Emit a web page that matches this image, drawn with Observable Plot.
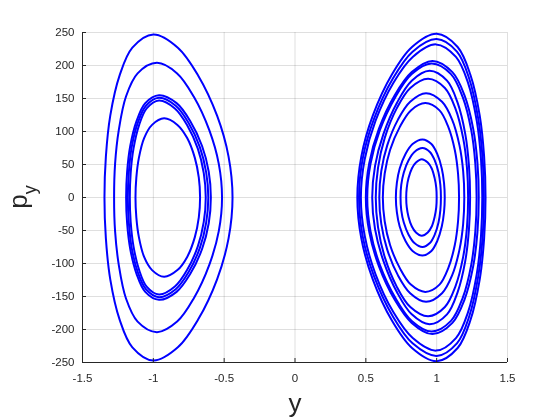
<!DOCTYPE html>
<html><head><meta charset="utf-8">
<script src="https://cdn.jsdelivr.net/npm/d3@7"></script>
<script src="https://cdn.jsdelivr.net/npm/@observablehq/plot@0.6"></script>
<style>body{margin:0;background:#fff}#chart{width:560px;height:420px}#chart svg{will-change:transform}</style>
</head><body><div id="chart"></div>
<script>
const xTicks = [-1.5, -1, -0.5, 0, 0.5, 1, 1.5];
const yTicks = [-250, -200, -150, -100, -50, 0, 50, 100, 150, 200, 250];
const xLabel = "y";
const yLabelMain = "p";
const yLabelSub = "y";

// orbits around y = -1 : [y, p_y] points
const leftOrbits = [
  [[-1.0,247],[-0.827,227],[-0.684,185],[-0.55,124],[-0.469,62],[-0.441,0],[-0.469,-62],[-0.55,-124],[-0.684,-185],[-0.827,-227],[-1.0,-247],[-1.148,-227],[-1.238,-185],[-1.304,-124],[-1.335,-62],[-1.345,0],[-1.335,62],[-1.304,124],[-1.238,185],[-1.148,227]],
  [[-0.975,204],[-0.832,188],[-0.715,153],[-0.605,102],[-0.538,51],[-0.515,0],[-0.538,-51],[-0.605,-102],[-0.715,-153],[-0.832,-188],[-0.975,-204],[-1.111,-188],[-1.193,-153],[-1.244,-102],[-1.27,-51],[-1.277,0],[-1.27,51],[-1.244,102],[-1.193,153],[-1.111,188]],
  [[-0.96,155],[-0.836,143],[-0.74,116],[-0.656,78],[-0.609,39],[-0.594,0],[-0.609,-39],[-0.656,-78],[-0.74,-116],[-0.836,-143],[-0.96,-155],[-1.057,-143],[-1.118,-116],[-1.163,-78],[-1.185,-39],[-1.192,0],[-1.185,39],[-1.163,78],[-1.118,116],[-1.057,143]],
  [[-0.96,151],[-0.842,139],[-0.751,113],[-0.671,76],[-0.627,38],[-0.612,0],[-0.627,-38],[-0.671,-76],[-0.751,-113],[-0.842,-139],[-0.96,-151],[-1.052,-139],[-1.11,-113],[-1.153,-76],[-1.173,-38],[-1.18,0],[-1.173,38],[-1.153,76],[-1.11,113],[-1.052,139]],
  [[-0.96,147],[-0.848,135],[-0.762,110],[-0.686,74],[-0.644,37],[-0.63,0],[-0.644,-37],[-0.686,-74],[-0.762,-110],[-0.848,-135],[-0.96,-147],[-1.047,-135],[-1.10,-110],[-1.14,-74],[-1.16,-37],[-1.166,0],[-1.16,37],[-1.14,74],[-1.10,110],[-1.047,135]],
  [[-0.924,120],[-0.83,110],[-0.761,90],[-0.707,60],[-0.679,30],[-0.67,0],[-0.679,-30],[-0.707,-60],[-0.761,-90],[-0.83,-110],[-0.924,-120],[-1.009,-110],[-1.065,-90],[-1.102,-60],[-1.12,-30],[-1.126,0],[-1.12,30],[-1.102,60],[-1.065,90],[-1.009,110]]
];

// orbits around y = +1
const rightOrbits = [
  [[1.0,248],[0.826,228],[0.683,186],[0.549,124],[0.468,62],[0.44,0],[0.468,-62],[0.549,-124],[0.683,-186],[0.826,-228],[1.0,-248],[1.148,-228],[1.238,-186],[1.304,-124],[1.335,-62],[1.345,0],[1.335,62],[1.304,124],[1.238,186],[1.148,228]],
  [[1.0,240],[0.83,221],[0.69,180],[0.559,120],[0.479,60],[0.452,0],[0.479,-60],[0.559,-120],[0.69,-180],[0.83,-221],[1.0,-240],[1.143,-221],[1.23,-180],[1.293,-120],[1.324,-60],[1.333,0],[1.324,60],[1.293,120],[1.23,180],[1.143,221]],
  [[0.995,232],[0.831,213],[0.695,174],[0.568,116],[0.492,58],[0.465,0],[0.492,-58],[0.568,-116],[0.695,-174],[0.831,-213],[0.995,-232],[1.136,-213],[1.221,-174],[1.283,-116],[1.313,-58],[1.322,0],[1.313,58],[1.283,116],[1.221,174],[1.136,213]],
  [[0.97,207],[0.824,190],[0.704,155],[0.592,104],[0.524,52],[0.50,0],[0.524,-52],[0.592,-104],[0.704,-155],[0.824,-190],[0.97,-207],[1.111,-190],[1.196,-155],[1.258,-104],[1.288,-52],[1.297,0],[1.288,52],[1.258,104],[1.196,155],[1.111,190]],
  [[0.965,203],[0.824,187],[0.708,152],[0.599,102],[0.533,51],[0.51,0],[0.533,-51],[0.599,-102],[0.708,-152],[0.824,-187],[0.965,-203],[1.101,-187],[1.184,-152],[1.244,-102],[1.273,-51],[1.282,0],[1.273,51],[1.244,102],[1.184,152],[1.101,187]],
  [[0.95,192],[0.824,177],[0.721,144],[0.624,96],[0.565,48],[0.545,0],[0.565,-48],[0.624,-96],[0.721,-144],[0.824,-177],[0.95,-192],[1.073,-177],[1.147,-144],[1.202,-96],[1.228,-48],[1.236,0],[1.228,48],[1.202,96],[1.147,144],[1.073,177]],
  [[0.94,180],[0.814,166],[0.718,135],[0.633,90],[0.586,45],[0.57,0],[0.586,-45],[0.633,-90],[0.718,-135],[0.814,-166],[0.94,-180],[1.058,-166],[1.132,-135],[1.187,-90],[1.214,-45],[1.222,0],[1.214,45],[1.187,90],[1.132,135],[1.058,166]],
  [[0.925,158],[0.813,145],[0.727,118],[0.651,79],[0.609,40],[0.595,0],[0.609,-40],[0.651,-79],[0.727,-118],[0.813,-145],[0.925,-158],[1.038,-145],[1.109,-118],[1.161,-79],[1.187,-40],[1.195,0],[1.187,40],[1.161,79],[1.109,118],[1.038,145]],
  [[0.92,143],[0.818,132],[0.74,107],[0.671,72],[0.633,36],[0.62,0],[0.633,-36],[0.671,-72],[0.74,-107],[0.818,-132],[0.92,-143],[1.02,-132],[1.082,-107],[1.128,-72],[1.151,-36],[1.158,0],[1.151,36],[1.128,72],[1.082,107],[1.02,132]],
  [[0.9,88],[0.83,81],[0.78,66],[0.739,44],[0.719,22],[0.712,0],[0.719,-22],[0.739,-44],[0.78,-66],[0.83,-81],[0.9,-88],[0.963,-81],[1.004,-66],[1.036,-44],[1.052,-22],[1.057,0],[1.052,22],[1.036,44],[1.004,66],[0.963,81]],
  [[0.9,75],[0.843,69],[0.801,56],[0.768,38],[0.75,19],[0.745,0],[0.75,-19],[0.768,-38],[0.801,-56],[0.843,-69],[0.9,-75],[0.952,-69],[0.987,-56],[1.013,-38],[1.026,-19],[1.03,0],[1.026,19],[1.013,38],[0.987,56],[0.952,69]],
  [[0.895,58],[0.854,53],[0.825,44],[0.801,29],[0.789,15],[0.785,0],[0.789,-15],[0.801,-29],[0.825,-44],[0.854,-53],[0.895,-58],[0.937,-53],[0.965,-44],[0.986,-29],[0.997,-15],[1.0,0],[0.997,15],[0.986,29],[0.965,44],[0.937,53]]
];

const rows = [...leftOrbits, ...rightOrbits].flatMap((pts, i) =>
  pts.map(([yv, pv]) => ({orbit: i, yv, pv})));

const axisColor = "#262626";
const fontFamily = "'Liberation Sans', Arial, sans-serif";
const fmt = d => String(d);

const chart = Plot.plot({
  width: 560, height: 420,
  marginLeft: 82, marginRight: 53, marginTop: 32, marginBottom: 58,
  x: {domain: [xTicks[0], xTicks[xTicks.length - 1]]},
  y: {domain: [yTicks[0], yTicks[yTicks.length - 1]]},
  style: {fontFamily, fontSize: "11.5px", color: axisColor, background: "transparent"},
  marks: [
    Plot.gridX(xTicks, {stroke: axisColor, strokeOpacity: 0.15}),
    Plot.gridY(yTicks, {stroke: axisColor, strokeOpacity: 0.15}),
    Plot.line(rows, {x: "yv", y: "pv", z: "orbit", curve: "catmull-rom-closed", stroke: "#0000ff", strokeWidth: 2}),
    Plot.ruleX([xTicks[0]], {stroke: axisColor, strokeWidth: 1}),
    Plot.ruleY([yTicks[0]], {stroke: axisColor, strokeWidth: 1}),
    Plot.axisX(xTicks, {tickSize: -4, tickPadding: 15, tickFormat: fmt, label: null}),
    Plot.axisY(yTicks, {tickSize: -4, tickPadding: 12, tickFormat: fmt, label: null}),
    Plot.text([xLabel], {frameAnchor: "bottom", dy: 49, fontSize: 26, fill: axisColor, lineAnchor: "bottom"})
  ]
});
document.getElementById("chart").appendChild(chart);

const svg = d3.select(chart);
const t = svg.append("text")
  .attr("transform", "translate(27,197) rotate(-90)")
  .attr("text-anchor", "middle")
  .attr("font-size", 26)
  .attr("font-family", fontFamily)
  .attr("fill", axisColor);
t.append("tspan").text(yLabelMain);
t.append("tspan").attr("font-size", 18).attr("dy", 9).text(yLabelSub);
</script>
</body></html>
